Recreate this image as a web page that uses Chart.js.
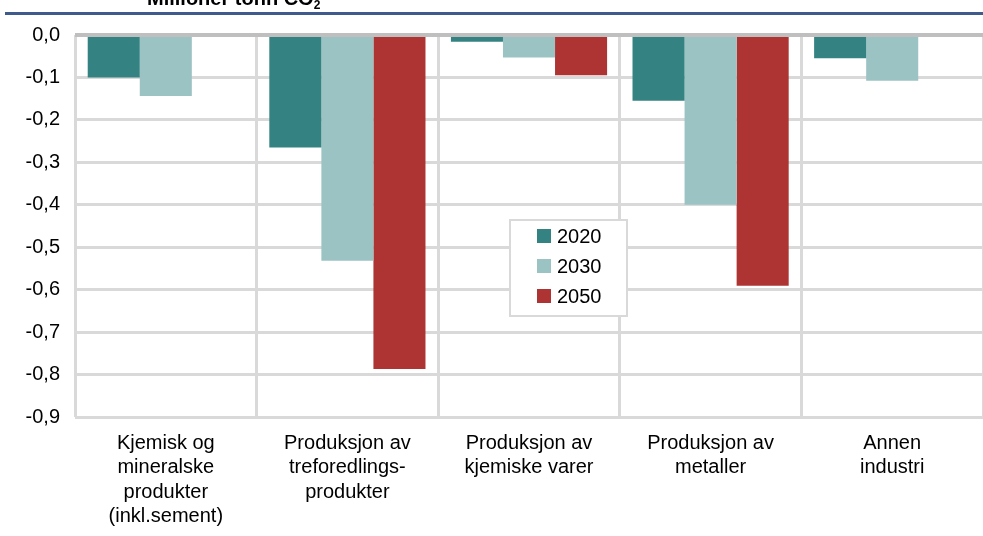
<!DOCTYPE html>
<html>
<head>
<meta charset="utf-8">
<script src="https://cdn.jsdelivr.net/npm/chart.js@4.4.0/dist/chart.umd.min.js"></script>
<style>
  html, body { margin: 0; padding: 0; background: #fff; }
  #wrap { width: 983px; height: 536px; position: relative; }
</style>
</head>
<body>
<div id="wrap"><canvas id="myChart"></canvas></div>
<script>
// Millioner tonn CO2
const categories = [
    ["Kjemisk og", "mineralske", "produkter", "(inkl.sement)"],
    ["Produksjon av", "treforedlings-", "produkter"],
    ["Produksjon av", "kjemiske varer"],
    ["Produksjon av", "metaller"],
    ["Annen", "industri"]
];
const years = ["2020", "2030", "2050"];
const values2020 = [-0.10, -0.265, -0.016, -0.155, -0.055];
const values2030 = [-0.144, -0.532, -0.053, -0.40, -0.108];
const values2050 = [null, -0.787, -0.095, -0.591, null];
const colors = ["#348382", "#9BC3C3", "#AE3434"];

const fontName = "'Liberation Sans', Arial, sans-serif";

// tittel + blå strek øverst
const topDeco = {
    id: 'topDeco',
    beforeDraw(chart) {
        const c = chart.ctx;
        c.save();
        c.fillStyle = '#3F5B8C';
        c.fillRect(5, 12, 978, 3);
        c.fillStyle = '#000';
        c.font = 'bold 20px ' + fontName;
        c.textBaseline = 'alphabetic';
        c.textAlign = 'left';
        c.fillText('Millioner tonn CO', 147, 5);
        const w = c.measureText('Millioner tonn CO').width;
        c.font = 'bold 12px ' + fontName;
        c.fillText('2', 147 + w, 9);
        c.restore();
    }
};

// legendeboks inne i plottet
const boxLegend = {
    id: 'boxLegend',
    afterDraw(chart) {
        const c = chart.ctx;
        c.save();
        c.fillStyle = '#fff';
        c.fillRect(510, 220, 117, 96);
        c.strokeStyle = '#D9D9D9';
        c.lineWidth = 2;
        c.strokeRect(510, 220, 117, 96);
        c.font = '20px ' + fontName;
        c.textBaseline = 'middle';
        chart.data.datasets.forEach((ds, i) => {
            const y = 236 + i * 30;
            c.fillStyle = ds.backgroundColor;
            c.fillRect(537, y - 7, 14, 14);
            c.fillStyle = '#000';
            c.fillText(ds.label, 557, y + 1);
        });
        c.restore();
    }
};

new Chart(document.getElementById("myChart"), {
    type: 'bar',
    data: {
        labels: categories,
        datasets: [
            { label: years[0], data: values2020, backgroundColor: colors[0] },
            { label: years[1], data: values2030, backgroundColor: colors[1] },
            { label: years[2], data: values2050, backgroundColor: colors[2] },
        ],
    },
    options: {
        responsive: true,
        maintainAspectRatio: false,
        animation: false,
        layout: { padding: { top: 35, right: 0, left: 0, bottom: 0 } },
        datasets: { bar: { categoryPercentage: 0.86, barPercentage: 1.0, borderWidth: 0 } },
        plugins: {
            legend: { display: false },
            tooltip: { enabled: false },
        },
        scales: {
            x: {
                afterFit: s => { s.height = 119; },
                grid: { color: '#D9D9D9', lineWidth: 3, drawTicks: false, offset: true },
                border: { display: false },
                ticks: {
                    color: '#000',
                    padding: 14,
                    maxRotation: 0,
                    autoSkip: false,
                    font: { family: fontName, size: 20, lineHeight: 1.225 },
                },
            },
            y: {
                min: -0.9,
                max: 0,
                afterFit: s => { s.width = 75; },
                grid: {
                    color: ctx => ctx.tick && ctx.tick.value === 0 ? '#BFBFBF' : '#D9D9D9',
                    lineWidth: ctx => ctx.tick && ctx.tick.value === 0 ? 4 : 3,
                    drawTicks: false,
                },
                border: { display: false },
                ticks: {
                    stepSize: 0.1,
                    color: '#000',
                    padding: 15,
                    font: { family: fontName, size: 20 },
                    callback: v => (Math.abs(v) < 1e-9 ? 0 : v).toFixed(1).replace('.', ','),
                },
            },
        },
    },
    plugins: [topDeco, boxLegend],
});
</script>
</body>
</html>
